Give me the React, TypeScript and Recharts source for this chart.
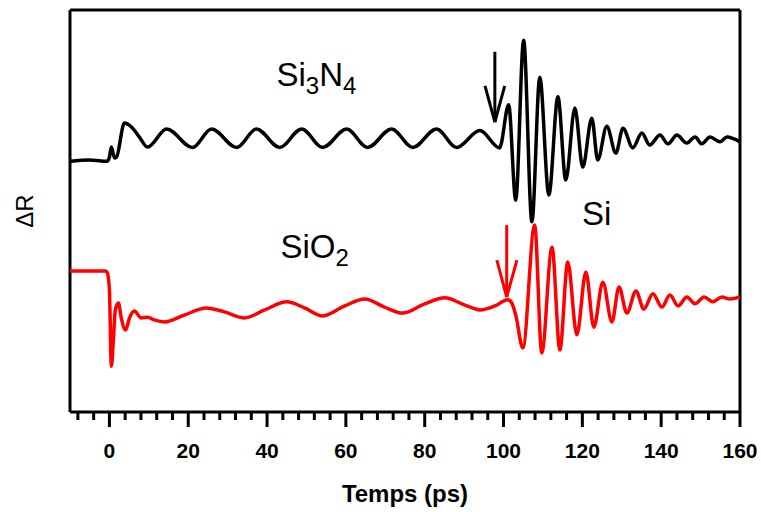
import React from 'react';
import { LineChart, Line, XAxis, YAxis, ReferenceLine, ReferenceDot } from 'recharts';

// Si3N4 trace (black): time in ps, ΔR in arbitrary units
const nitrideTime = [
  -10, -5.1, -1.3, -0.5, 0, 0.5, 1.3, 1.8, 3.8, 5.6, 7.6, 9.7,
  14.5, 21.1, 25.9, 32.3, 37.3, 43.2, 48.8, 54.1, 60.2, 65.5, 71.6, 77.0, 83.0, 88.1, 94.0, 99.0,
  101.3, 103.1, 105.1, 107.2, 109.2, 111.5, 113.8, 115.8, 118.1, 120.1, 122.4, 123.9, 126.2, 128.5,
  130.3, 132.8, 135.1, 137.1, 139.7, 141.7, 144.0, 146.5, 148.6, 150.3, 152.4, 154.9, 156.7, 160,
];
const nitrideDR = [
  62.4, 62.7, 62.4, 62.4, 63.4, 65.9, 63.2, 63.4, 71.9, 70.9, 68.4, 65.9,
  70.4, 65.8, 70.4, 65.8, 70.4, 65.8, 70.4, 65.8, 70.4, 65.8, 70.4, 65.8, 70.4, 65.8, 70.0, 65.7,
  76.4, 52.7, 92.5, 47.3, 83.3, 54.0, 78.4, 57.7, 75.6, 60.9, 73.1, 62.7, 71.1, 64.4,
  70.6, 65.7, 69.4, 66.4, 68.9, 66.7, 68.9, 66.9, 68.4, 66.7, 68.4, 67.2, 68.4, 67.2,
];

// SiO2 trace (red)
const oxideTime = [
  -10, -5.1, -1.0, -0.5, 0, 0.5, 1.0, 1.5, 2.3, 3.0, 4.1, 5.1, 6.3, 8.1, 9.7, 11.4, 14.0,
  19.0, 24.6, 29.2, 34.3, 39.4, 45.0, 49.5, 54.1, 59.7, 64.8, 69.8, 74.4, 80.0, 85.1, 90.2, 94.0, 97.8,
  101.1, 102.1, 103.1, 104.9, 107.9, 109.7, 112.3, 114.3, 116.3, 118.6, 120.9, 122.9, 125.2, 127.5,
  129.3, 131.3, 133.6, 135.6, 137.9, 140.2, 142.2, 144.3, 146.5, 148.6, 150.9, 153.1, 155.4, 157.5, 160,
];
const oxideDR = [
  35.1, 35.1, 35.1, 34.6, 30.3, 11.4, 17.9, 25.4, 27.1, 23.4, 20.4, 23.4, 25.1, 23.4, 23.6, 22.9, 22.4,
  24.1, 25.9, 24.9, 23.4, 25.4, 27.4, 25.9, 23.9, 26.4, 28.1, 26.1, 24.6, 26.9, 28.4, 26.6, 25.4, 26.4,
  27.9, 27.1, 24.1, 15.9, 46.5, 14.7, 41.0, 15.4, 37.3, 19.2, 34.8, 21.1, 32.3, 22.4,
  31.1, 24.6, 30.1, 25.6, 29.4, 26.1, 29.1, 26.4, 28.6, 26.9, 28.6, 27.4, 28.6, 28.1, 28.6,
];

const majorTicks = [0, 20, 40, 60, 80, 100, 120, 140, 160];
const allTicks = [-8, -4, 0, 4, 8, 12, 16, 20, 24, 28, 32, 36, 40, 44, 48, 52, 56, 60, 64, 68, 72, 76, 80,
  84, 88, 92, 96, 100, 104, 108, 112, 116, 120, 124, 128, 132, 136, 140, 144, 148, 152, 156, 160];

// arrows: [x, top, tip, barbLeft, barbRight, barbY]
const nitrideArrow = [97.8, 89.6, 72.1, 95.3, 100.3, 81.1];
const oxideArrow = [100.8, 46.5, 28.6, 98.3, 103.4, 37.8];

const FONT = 'Liberation Sans, Arial, Helvetica, sans-serif';
const LW = 3.5;

const nitrideData = nitrideTime.map((t, i) => ({ t, v: nitrideDR[i] }));
const oxideData = oxideTime.map((t, i) => ({ t, v: oxideDR[i] }));

const AxisTick = ({ x, y, payload }: any) => {
  const major = majorTicks.includes(payload.value);
  return (
    <g>
      <line x1={x} x2={x} y1={y} y2={y + (major ? 15 : 8)} stroke="#000" strokeWidth={3} />
      {major && (
        <text x={x} y={y + 46} textAnchor="middle" fontFamily={FONT} fontWeight="bold" fontSize={21} fill="#000">
          {payload.value}
        </text>
      )}
    </g>
  );
};

function Formula({ cx, cy, parts }: any) {
  // parts: [text, isSubscript]
  return (
    <text x={cx} y={cy} fontFamily={FONT} fontSize={33} fill="#000">
      {parts.map(([s, sub]: [string, boolean], i: number) => {
        const prevSub = i > 0 && parts[i - 1][1];
        const dy = sub && !prevSub ? 8 : !sub && prevSub ? -8 : 0;
        return (
          <tspan key={i} dy={dy} fontSize={sub ? 24 : 33}>{s}</tspan>
        );
      })}
    </text>
  );
}

export default function App() {
  const arrowLines = (a: number[], color: string, key: string) => {
    const [x, top, tip, bl, br, by] = a;
    return [
      <ReferenceLine key={key + 's'} segment={[{ x, y: top }, { x, y: tip }]} stroke={color} strokeWidth={3} />,
      <ReferenceLine key={key + 'l'} segment={[{ x: bl, y: by }, { x, y: tip }]} stroke={color} strokeWidth={3} />,
      <ReferenceLine key={key + 'r'} segment={[{ x: br, y: by }, { x, y: tip }]} stroke={color} strokeWidth={3} />,
    ];
  };

  return (
    <div style={{ position: 'absolute', left: 0, top: 0 }}>
      <LineChart width={761} height={512} margin={{ top: 10, right: 21, bottom: 40, left: 70 }}>
        <XAxis
          type="number"
          dataKey="t"
          domain={[-10, 160]}
          allowDataOverflow
          ticks={allTicks}
          interval={0}
          tickSize={0}
          tickMargin={0}
          tickLine={false}
          tick={<AxisTick />}
          height={60}
          axisLine={{ stroke: '#000', strokeWidth: 3 }}
          label={{
            content: () => (
              <text x={405} y={502} textAnchor="middle" fontFamily={FONT} fontWeight="bold" fontSize={24} fill="#000">
                Temps (ps)
              </text>
            ),
          }}
        />
        <YAxis type="number" domain={[0, 100]} allowDataOverflow hide />
        <ReferenceLine
          x={-10}
          stroke="#000"
          strokeWidth={3}
          label={{
            content: () => (
              <text x={24} y={211} transform="rotate(-90, 24, 211)" textAnchor="middle" dominantBaseline="central"
                fontFamily={FONT} fontSize={24} fill="#000">
                ΔR
              </text>
            ),
          }}
        />
        <ReferenceLine y={100} stroke="#000" strokeWidth={3} />
        <ReferenceLine x={160} stroke="#000" strokeWidth={3} />

        <Line data={nitrideData} dataKey="v" type="monotone" stroke="#000" strokeWidth={LW} dot={false} isAnimationActive={false} />
        <Line data={oxideData} dataKey="v" type="monotone" stroke="#ff0000" strokeWidth={LW} dot={false} isAnimationActive={false} />

        {arrowLines(nitrideArrow, '#000', 'na')}
        {arrowLines(oxideArrow, '#ff0000', 'oa')}

        <ReferenceDot x={42.4} y={81.1} r={0}
          shape={(p: any) => <Formula cx={p.cx} cy={p.cy} parts={[['Si', false], ['3', true], ['N', false], ['4', true]]} />} />
        <ReferenceDot x={43.4} y={38.3} r={0}
          shape={(p: any) => <Formula cx={p.cx} cy={p.cy} parts={[['SiO', false], ['2', true]]} />} />
        <ReferenceDot x={119.9} y={46.5} r={0}
          shape={(p: any) => <Formula cx={p.cx} cy={p.cy} parts={[['Si', false]]} />} />
      </LineChart>
    </div>
  );
}
